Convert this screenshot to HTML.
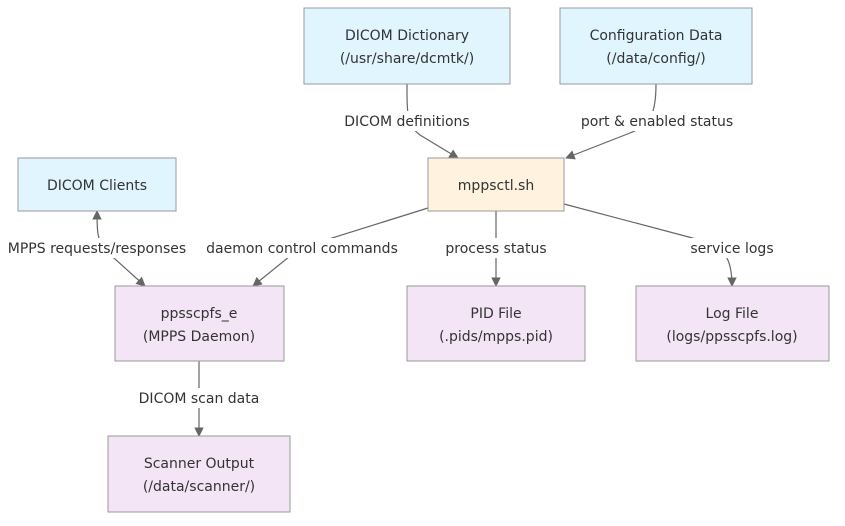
<!DOCTYPE html>
<html><head><meta charset="utf-8"><style>
html,body{margin:0;padding:0;background:#fff;}
svg{display:block;font-family:"DejaVu Sans","Liberation Sans",sans-serif;}
text{font-size:14px;fill:#333;text-anchor:middle;}
.lbl{fill:#fff;}
</style></head><body>
<svg width="845" height="526" viewBox="0 0 845 526">
<defs><marker id="a" viewBox="0 0 10 10" refX="9" refY="5" markerWidth="8" markerHeight="8" orient="auto-start-reverse"><path d="M0,0L10,5L0,10z" fill="#666"/></marker></defs>
<g fill="none" stroke="#666" stroke-width="1.2">
<path d="M407,84 C407,115 407,125 420,135 L458,158" marker-end="url(#a)"/>
<path d="M656,84 C656,115 650,125 630,133 L566,158" marker-end="url(#a)"/>
<path d="M428,208 L300,248 L253,286" marker-end="url(#a)"/>
<path d="M97,211 C97,230 97,240 105,250 L145,286" marker-start="url(#a)" marker-end="url(#a)"/>
<path d="M496,211 L496,286" marker-end="url(#a)"/>
<path d="M564,204 L700,240 C725,248 732,258 732,286" marker-end="url(#a)"/>
<path d="M199,361 L199,436" marker-end="url(#a)"/>
</g>
<g stroke="#999" stroke-width="1">
<rect x="304" y="8" width="206" height="76" fill="#e1f5fe"/>
<rect x="560" y="8" width="192" height="76" fill="#e1f5fe"/>
<rect x="428" y="158" width="136" height="53" fill="#fff3e0"/>
<rect x="18" y="158" width="158" height="53" fill="#e1f5fe"/>
<rect x="115" y="286" width="169" height="75" fill="#f3e5f5"/>
<rect x="407" y="286" width="178" height="75" fill="#f3e5f5"/>
<rect x="636" y="286" width="193" height="75" fill="#f3e5f5"/>
<rect x="108" y="436" width="182" height="76" fill="#f3e5f5"/>
</g>
<g>
<rect class="lbl" x="340" y="111" width="134" height="20"/><text x="407" y="126">DICOM definitions</text>
<rect class="lbl" x="578" y="111" width="158" height="20"/><text x="657" y="126">port &amp; enabled status</text>
<rect class="lbl" x="205" y="238" width="194" height="20"/><text x="302" y="253">daemon control commands</text>
<rect class="lbl" x="6" y="238" width="182" height="20"/><text x="97" y="253">MPPS requests/responses</text>
<rect class="lbl" x="445" y="238" width="103" height="20"/><text x="496" y="253">process status</text>
<rect class="lbl" x="689" y="238" width="87" height="20"/><text x="732" y="253">service logs</text>
<rect class="lbl" x="139" y="388" width="121" height="20"/><text x="199" y="403">DICOM scan data</text>
</g>
<text x="407" y="40">DICOM Dictionary</text><text x="407" y="63">(/usr/share/dcmtk/)</text>
<text x="656" y="40">Configuration Data</text><text x="656" y="63">(/data/config/)</text>
<text x="496" y="190">mppsctl.sh</text>
<text x="97" y="190">DICOM Clients</text>
<text x="199" y="318">ppsscpfs_e</text><text x="199" y="341">(MPPS Daemon)</text>
<text x="496" y="318">PID File</text><text x="496" y="341">(.pids/mpps.pid)</text>
<text x="732" y="318">Log File</text><text x="732" y="341">(logs/ppsscpfs.log)</text>
<text x="199" y="468">Scanner Output</text><text x="199" y="491">(/data/scanner/)</text>
</svg>
</body></html>
